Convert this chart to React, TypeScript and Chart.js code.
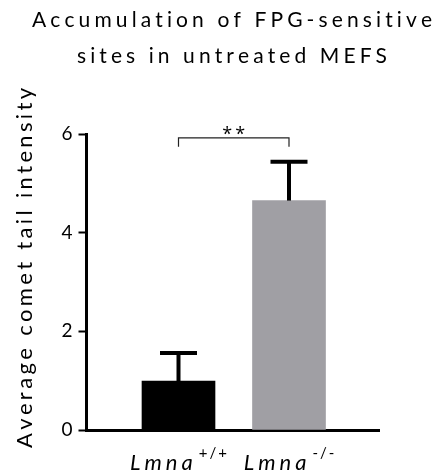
import React, { useEffect, useRef } from "react";
import { Chart, registerables } from "chart.js";

Chart.register(...registerables);

// ---- data ----
const geneName = "Lmna";
const genotypes = ["+/+", "-/-"];
const xPositions = [1, 2];
const means = [0.99, 4.65];
const errors = [0.57, 0.79];
const barColors = ["#000000", "#a09fa4"];
const yMin = 0;
const yMax = 6;
const yStep = 2;
const titleLines = ["Accumulation of FPG-sensitive", "sites in untreated MEFS"];
const yTitle = "Average comet tail intensity";
const significance = "**";
const bracketLevel = 5.92;
const bracketDropLevel = 5.74;

const FONT = "Lato, 'Open Sans', 'DejaVu Sans', sans-serif";
const STAR_FONT = "'Open Sans', 'DejaVu Sans', sans-serif";

function charsWidth(ctx: CanvasRenderingContext2D, text: string) {
  let w = 0;
  for (const ch of text) w += ctx.measureText(ch).width;
  return w;
}

function drawSpaced(
  ctx: CanvasRenderingContext2D,
  text: string,
  cx: number,
  y: number,
  targetWidth: number
) {
  const chars = Array.from(text);
  const natural = charsWidth(ctx, text);
  const spacing = chars.length > 1 ? (targetWidth - natural) / (chars.length - 1) : 0;
  let x = cx - targetWidth / 2;
  ctx.textAlign = "left";
  for (const ch of chars) {
    ctx.fillText(ch, x, y);
    x += ctx.measureText(ch).width + spacing;
  }
}

function drawSpacedFixed(
  ctx: CanvasRenderingContext2D,
  text: string,
  x: number,
  y: number,
  spacing: number
) {
  ctx.textAlign = "left";
  for (const ch of Array.from(text)) {
    ctx.fillText(ch, x, y);
    x += ctx.measureText(ch).width + spacing;
  }
  return x - spacing;
}

function spacedWidth(ctx: CanvasRenderingContext2D, text: string, spacing: number) {
  const n = Array.from(text).length;
  return charsWidth(ctx, text) + spacing * (n - 1);
}

const annotationPlugin = {
  id: "annotations",
  afterDatasetsDraw(chart: any) {
    const ctx: CanvasRenderingContext2D = chart.ctx;
    const yScale = chart.scales.y;
    const meta = chart.getDatasetMeta(0);
    ctx.save();
    // error bars (upper only)
    ctx.strokeStyle = "#000";
    ctx.lineWidth = 4;
    ctx.lineCap = "butt";
    meta.data.forEach((bar: any, i: number) => {
      const x = bar.x;
      const yTop = yScale.getPixelForValue(means[i] + errors[i]);
      const yBase = yScale.getPixelForValue(means[i]);
      ctx.beginPath();
      ctx.moveTo(x, yBase);
      ctx.lineTo(x, yTop);
      ctx.stroke();
      ctx.beginPath();
      ctx.moveTo(x - 18.5, yTop);
      ctx.lineTo(x + 18.5, yTop);
      ctx.stroke();
    });
    // significance bracket
    const x1 = meta.data[0].x;
    const x2 = meta.data[1].x;
    const yb = yScale.getPixelForValue(bracketLevel);
    const yd = yScale.getPixelForValue(bracketDropLevel);
    ctx.lineWidth = 1.2;
    ctx.strokeStyle = "#222";
    ctx.beginPath();
    ctx.moveTo(x1, yd);
    ctx.lineTo(x1, yb);
    ctx.lineTo(x2, yb);
    ctx.lineTo(x2, yd);
    ctx.stroke();
    ctx.fillStyle = "#000";
    ctx.font = `18px ${STAR_FONT}`;
    ctx.textBaseline = "alphabetic";
    const sw = spacedWidth(ctx, significance, 3);
    drawSpacedFixed(ctx, significance, (x1 + x2) / 2 - sw / 2, yb + 2, 3);
    ctx.restore();
  },
  afterDraw(chart: any) {
    const ctx: CanvasRenderingContext2D = chart.ctx;
    const meta = chart.getDatasetMeta(0);
    ctx.save();
    ctx.fillStyle = "#000";
    ctx.textBaseline = "alphabetic";
    // title
    ctx.font = `21px ${FONT}`;
    drawSpaced(ctx, titleLines[0], 232, 27, 400);
    drawSpaced(ctx, titleLines[1], 232, 63, 310);
    // y title
    ctx.save();
    ctx.translate(32, 268);
    ctx.rotate(-Math.PI / 2);
    ctx.font = `22px ${FONT}`;
    drawSpaced(ctx, yTitle, 0, 0, 360);
    ctx.restore();
    // x labels
    meta.data.forEach((bar: any, i: number) => {
      ctx.font = `italic 22px ${FONT}`;
      const mainW = spacedWidth(ctx, geneName, 4);
      ctx.font = `15px ${FONT}`;
      const supW = spacedWidth(ctx, genotypes[i], 2);
      const gap = 6;
      const total = mainW + gap + supW;
      let x = bar.x - total / 2;
      ctx.font = `italic 22px ${FONT}`;
      drawSpacedFixed(ctx, geneName, x, 470, 4);
      x += mainW + gap;
      ctx.font = `15px ${FONT}`;
      drawSpacedFixed(ctx, genotypes[i], x, 458, 2);
    });
    ctx.restore();
  },
};

export default function App() {
  const ref = useRef<HTMLCanvasElement | null>(null);
  useEffect(() => {
    if (!ref.current) return;
    const chart = new Chart(ref.current, {
      type: "bar",
      data: {
        datasets: [
          {
            data: xPositions.map((x, i) => ({ x, y: means[i] })),
            backgroundColor: barColors,
            borderWidth: 0,
            barThickness: 73,
          },
        ],
      },
      options: {
        animation: false,
        responsive: false,
        layout: { padding: { top: 134, right: 58, bottom: 0, left: 0 } },
        plugins: { legend: { display: false }, tooltip: { enabled: false }, title: { display: false } },
        scales: {
          x: {
            type: "linear",
            min: 0.1674,
            max: 2.8145,
            offset: false,
            z: 1,
            ticks: { display: false },
            grid: { display: true, offset: false, drawOnChartArea: false, drawTicks: false },
            border: { display: true, width: 3, color: "#000" },
            afterFit: (s: any) => {
              s.height = 45;
            },
          },
          y: {
            min: yMin,
            max: yMax,
            ticks: {
              stepSize: yStep,
              color: "#000",
              padding: 6,
              font: { family: FONT, size: 19 },
            },
            grid: {
              drawOnChartArea: false,
              drawTicks: true,
              tickLength: 8,
              tickWidth: 2,
              tickColor: "#000",
            },
            border: { display: true, width: 3, color: "#000" },
            afterFit: (s: any) => {
              s.width = 86.5;
            },
          },
        },
      },
      plugins: [annotationPlugin],
    } as any);
    return () => chart.destroy();
  }, []);
  return (
    <div style={{ position: "fixed", left: 0, top: 0, width: 437, height: 475, background: "#fff" }}>
      <canvas ref={ref} width={437} height={475} style={{ display: "block" }} />
    </div>
  );
}
